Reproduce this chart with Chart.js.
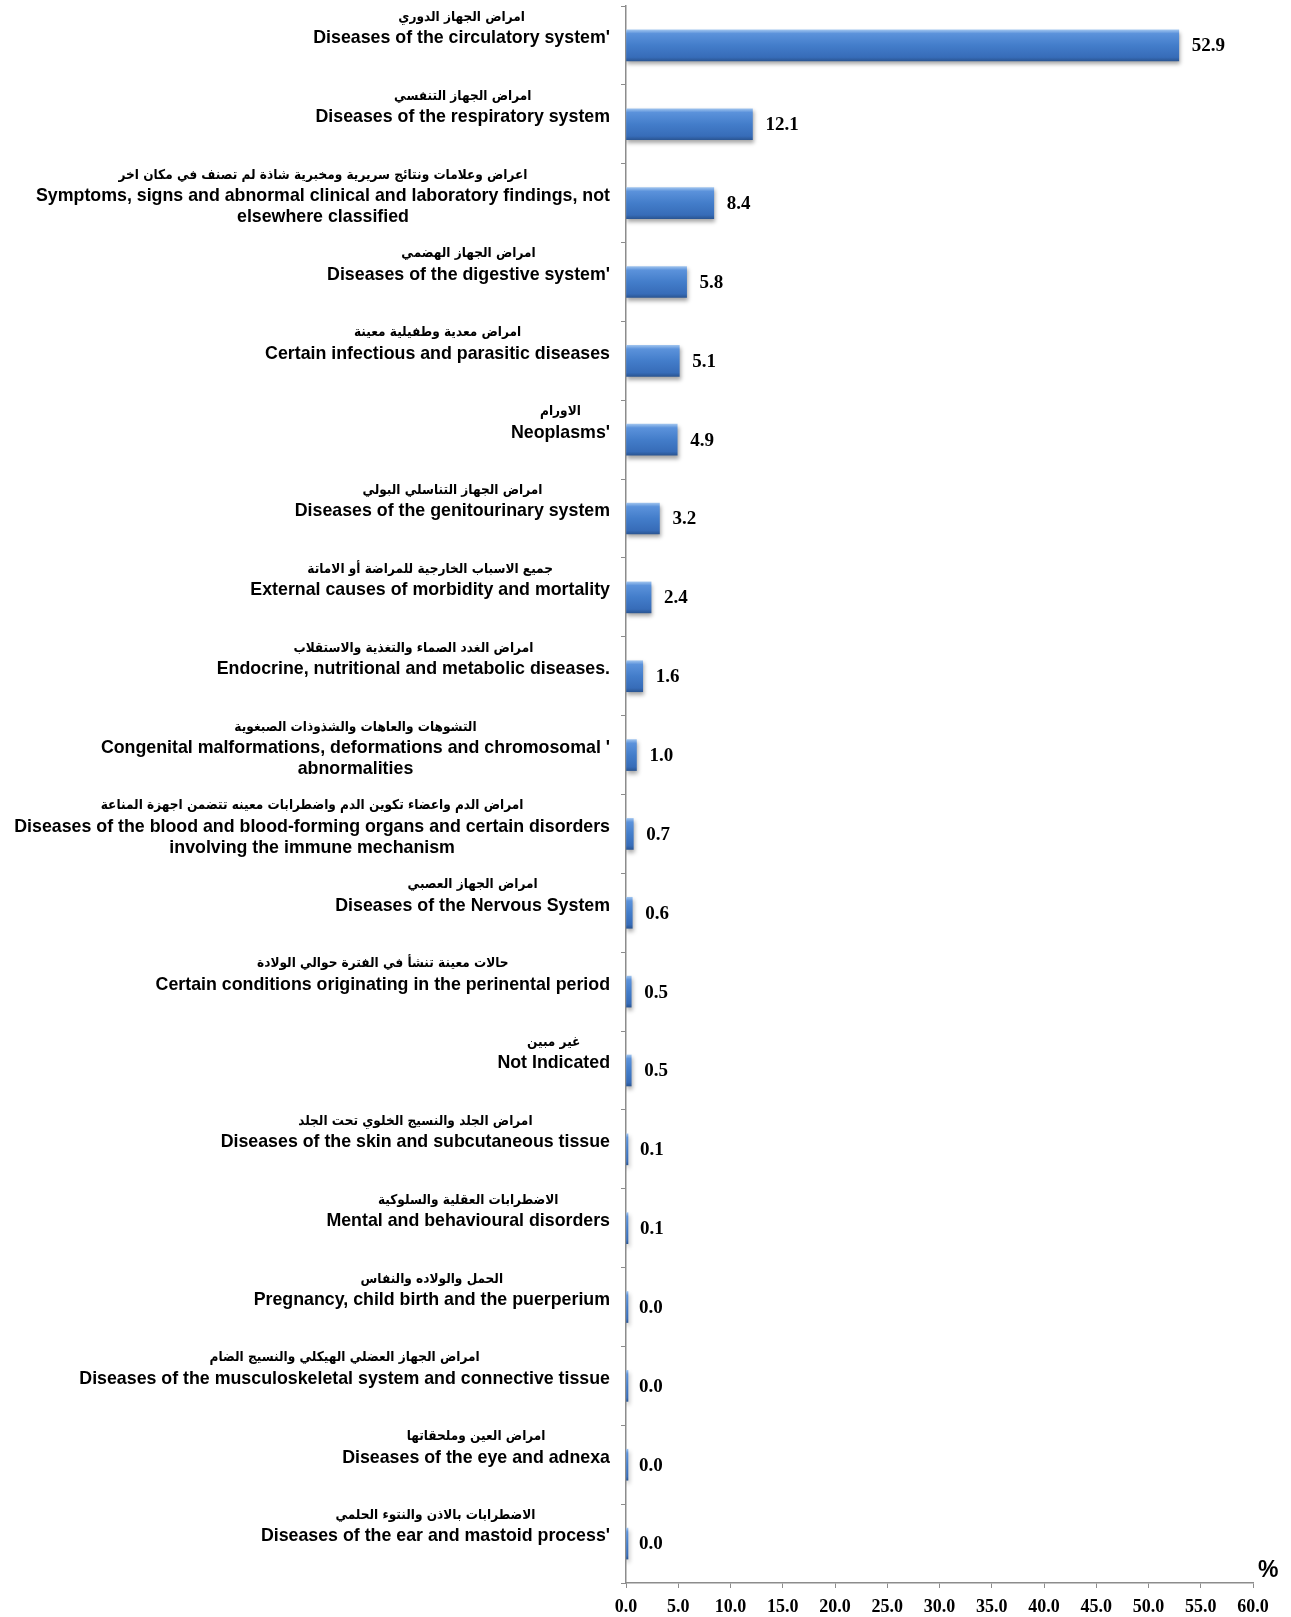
<!DOCTYPE html>
<html>
<head>
<meta charset="utf-8">
<script src="https://cdn.jsdelivr.net/npm/chart.js@4.4.0/dist/chart.umd.min.js"></script>
<style>
  html, body { margin: 0; padding: 0; background: #fff; }
  #wrap { width: 1291px; height: 1617px; position: relative; }
</style>
</head>
<body>
<div id="wrap"><canvas id="myChart" width="1291" height="1617"></canvas></div>
<script>
var arabicLabels = [
    'امراض الجهاز الدوري',
    'امراض الجهاز التنفسي',
    'اعراض وعلامات ونتائج سريرية ومخبرية شاذة لم تصنف في مكان اخر',
    'امراض الجهاز الهضمي',
    'امراض معدية وطفيلية معينة',
    'الاورام',
    'امراض الجهاز التناسلي البولي',
    'جميع الاسباب الخارجية للمراضة أو الاماتة',
    'امراض الغدد الصماء والتغذية والاستقلاب',
    'التشوهات والعاهات والشذوذات الصبغوية',
    'امراض الدم واعضاء تكوين الدم واضطرابات معينه تتضمن اجهزة المناعة',
    'امراض الجهاز العصبي',
    'حالات معينة تنشأ في الفترة حوالي الولادة',
    'غير مبين',
    'امراض الجلد والنسيج الخلوي تحت الجلد',
    'الاضطرابات العقلية والسلوكية',
    'الحمل والولاده والنفاس',
    'امراض الجهاز العضلي الهيكلي والنسيج الضام',
    'امراض العين وملحقاتها',
    'الاضطرابات بالاذن والنتوء الحلمي'
];

var englishLabels = [
    ["Diseases of the circulatory system'"],
    ['Diseases of the respiratory system'],
    ['Symptoms, signs and abnormal clinical and laboratory findings, not', 'elsewhere classified'],
    ["Diseases of the digestive system'"],
    ['Certain infectious and parasitic diseases'],
    ["Neoplasms'"],
    ['Diseases of the genitourinary system'],
    ['External causes of morbidity and mortality'],
    ['Endocrine, nutritional and metabolic diseases.'],
    ["Congenital malformations, deformations and chromosomal '", 'abnormalities'],
    ['Diseases of the blood and blood-forming organs and certain disorders', 'involving the immune mechanism'],
    ['Diseases of the Nervous System'],
    ['Certain conditions originating in the perinental period'],
    ['Not Indicated'],
    ['Diseases of the skin and subcutaneous tissue'],
    ['Mental and behavioural disorders'],
    ['Pregnancy, child birth and the puerperium'],
    ['Diseases of the musculoskeletal system and connective tissue'],
    ['Diseases of the eye and adnexa'],
    ["Diseases of the ear and mastoid process'"]
];

var percentValues = [52.9, 12.1, 8.4, 5.8, 5.1, 4.9, 3.2, 2.4, 1.6, 1.0, 0.7, 0.6, 0.5, 0.5, 0.1, 0.1, 0.0, 0.0, 0.0, 0.0];

var axisMin = 0;
var axisMax = 60;
var axisStep = 5;
var axisUnit = '%';

var serifBold = 'bold 19px "Liberation Serif", "Times New Roman", serif';
var labelRight = 610;

// gradient like the 3D excel bars
function barGradient(context) {
    var chart = context.chart;
    if (!chart.chartArea || context.dataIndex === undefined) return '#4a82cc';
    var y = chart.scales.y.getPixelForValue(context.dataIndex);
    var g = chart.ctx.createLinearGradient(0, y - 16, 0, y + 16);
    g.addColorStop(0, '#a5c8f0');
    g.addColorStop(0.13, '#5b92db');
    g.addColorStop(0.5, '#437dca');
    g.addColorStop(0.87, '#376cb8');
    g.addColorStop(1, '#29538f');
    return g;
}

var categoryLabels = englishLabels.map(function (l) { return l.join(' '); });

var sideLabels = {
    id: 'sideLabels',
    afterDraw: function (chart) {
        var ctx = chart.ctx;
        var yScale = chart.scales.y;
        var xScale = chart.scales.x;
        ctx.save();
        ctx.fillStyle = '#000';
        ctx.textBaseline = 'middle';
        ctx.textAlign = 'center';
        for (var i = 0; i < categoryLabels.length; i++) {
            var yc = yScale.getPixelForValue(i);
            var lines = [{ text: arabicLabels[i], font: 'bold 13.5px "DejaVu Sans Condensed", "DejaVu Sans", sans-serif', dy: -28, rtl: true }];
            englishLabels[i].forEach(function (t, k) {
                lines.push({ text: t, font: 'bold 17.8px "Liberation Sans", Arial, sans-serif', dy: -7 + k * 21 });
            });
            var w = 0;
            lines.forEach(function (ln) {
                ctx.font = ln.font;
                w = Math.max(w, ctx.measureText(ln.text).width);
            });
            var cx = labelRight - w / 2;
            lines.forEach(function (ln) {
                ctx.font = ln.font;
                ctx.direction = ln.rtl ? 'rtl' : 'ltr';
                ctx.fillText(ln.text, cx, yc + ln.dy);
            });

            // value label
            ctx.direction = 'ltr';
            ctx.textAlign = 'left';
            ctx.font = serifBold;
            ctx.fillText(percentValues[i].toFixed(1), xScale.getPixelForValue(percentValues[i]) + 13, yc + 1);
            ctx.textAlign = 'center';
        }
        ctx.font = 'bold 23px "Liberation Sans", Arial, sans-serif';
        ctx.textAlign = 'left';
        ctx.fillText(axisUnit, 1258, 1571);
        ctx.restore();
    }
};

var barShadow = {
    id: 'barShadow',
    beforeDatasetsDraw: function (chart) {
        var ctx = chart.ctx;
        ctx.save();
        ctx.shadowColor = 'rgba(0,0,0,0.35)';
        ctx.shadowBlur = 4;
        ctx.shadowOffsetX = 1;
        ctx.shadowOffsetY = 3;
    },
    afterDatasetsDraw: function (chart) {
        chart.ctx.restore();
    }
};

var ctx = document.getElementById('myChart').getContext('2d');
var myChart = new Chart(ctx, {
    type: 'bar',
    data: {
        labels: categoryLabels,
        datasets: [{
            data: percentValues,
            backgroundColor: barGradient,
            borderWidth: 0,
            barThickness: 31,
            minBarLength: 2
        }]
    },
    plugins: [barShadow, sideLabels],
    options: {
        indexAxis: 'y',
        responsive: false,
        animation: false,
        layout: {
            padding: { top: 6, right: 38, left: 0, bottom: 0 }
        },
        plugins: {
            legend: { display: false },
            tooltip: { enabled: false }
        },
        scales: {
            x: {
                min: axisMin,
                max: axisMax,
                afterFit: function (scale) { scale.height = 34; },
                afterBuildTicks: function (scale) {
                    var t = [];
                    for (var v = axisMin; v <= axisMax; v += axisStep) t.push({ value: v });
                    scale.ticks = t;
                },
                grid: {
                    drawOnChartArea: false,
                    drawTicks: true,
                    tickLength: 5,
                    color: '#8c8c8c'
                },
                border: { color: '#8c8c8c', width: 1.5 },
                ticks: {
                    color: '#000',
                    padding: 9,
                    autoSkip: false,
                    maxRotation: 0,
                    font: { family: '"Liberation Serif", "Times New Roman", serif', size: 18, weight: 'bold' },
                    callback: function (v) { return Number(v).toFixed(1); }
                }
            },
            y: {
                afterFit: function (scale) { scale.width = 626; },
                grid: {
                    drawOnChartArea: false,
                    drawTicks: true,
                    tickLength: 5,
                    offset: true,
                    color: '#8c8c8c'
                },
                border: { color: '#8c8c8c', width: 1.5 },
                ticks: { display: false }
            }
        }
    }
});
</script>
</body>
</html>
